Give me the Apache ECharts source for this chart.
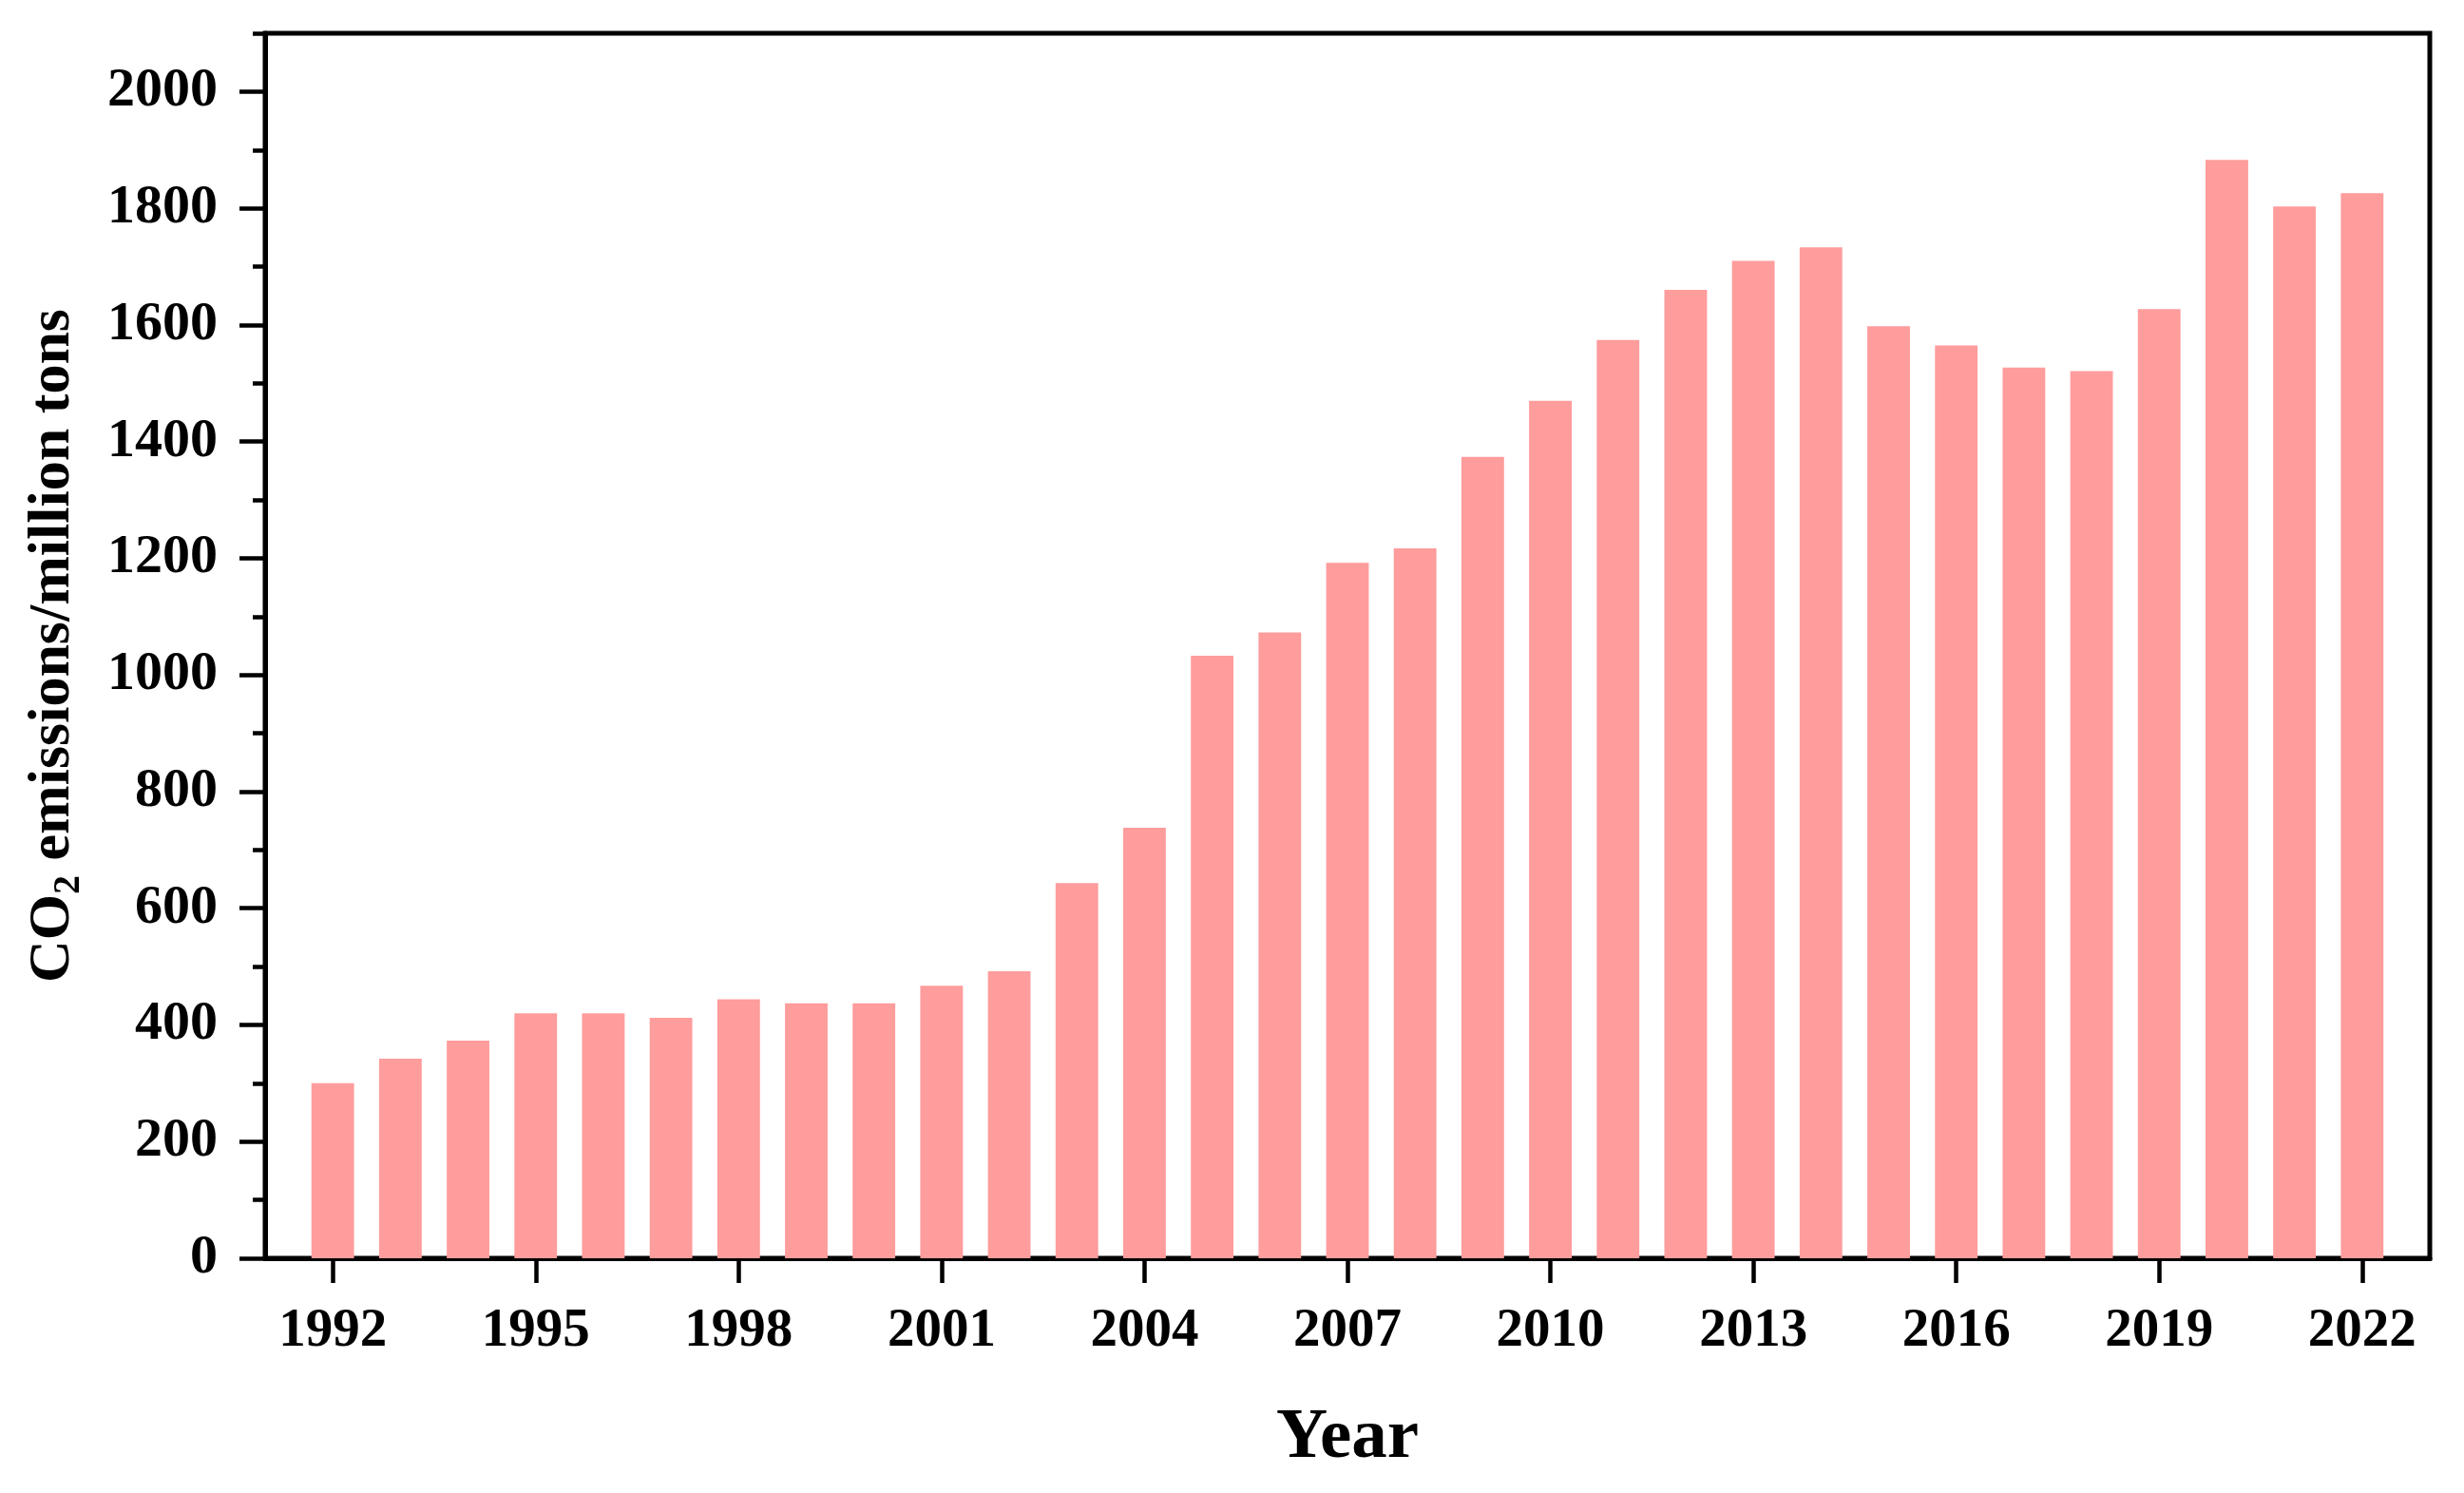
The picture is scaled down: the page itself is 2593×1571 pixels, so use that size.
<!DOCTYPE html>
<html>
<head>
<meta charset="utf-8">
<script src="https://cdn.jsdelivr.net/npm/echarts@6/dist/echarts.min.js"></script>
<style>
html,body{margin:0;padding:0;background:#fff;}
#chart{width:2593px;height:1571px;}
</style>
</head>
<body>
<div id="chart"></div>
<script>
// Data
var years = ['1992','1993','1994','1995','1996','1997','1998','1999','2000','2001','2002','2003','2004','2005','2006','2007','2008','2009','2010','2011','2012','2013','2014','2015','2016','2017','2018','2019','2020','2021','2022'];
var emissions = [300,342,373,420,420,412,444,437,437,467,492,643,738,1033,1073,1192,1217,1374,1470,1574,1660,1710,1733,1598,1565,1527,1521,1627,1883,1803,1826];
var xTickLabels = ['1992','1995','1998','2001','2004','2007','2010','2013','2016','2019','2022'];
var yMajorTicks = [0,200,400,600,800,1000,1200,1400,1600,1800,2000];
var yMinorTicks = [100,300,500,700,900,1100,1300,1500,1700,1900,2100];

// axis padded with one empty slot at each end (the reference leaves a full band of space)
var axisCats = [''].concat(years).concat(['']);
var barData = [null].concat(emissions).concat([null]);

var FONT = 'Liberation Serif';
function showYear(idx, val) { return xTickLabels.indexOf(val) >= 0; }

var chart = echarts.init(document.getElementById('chart'));
chart.setOption({
  animation: false,
  backgroundColor: '#fff',
  grid: {
    left: 279, right: 36, top: 35, bottom: 247,
    containLabel: false,
    outerBoundsMode: 'none',
    show: true, borderColor: '#000', borderWidth: 5, backgroundColor: 'transparent'
  },
  xAxis: {
    type: 'category',
    data: axisCats,
    boundaryGap: false,
    name: 'Year',
    nameLocation: 'middle',
    nameGap: 152,
    nameTextStyle: { fontFamily: FONT, fontWeight: 'bold', fontSize: 75, color: '#000' },
    axisLine: { show: true, lineStyle: { color: '#000', width: 5 } },
    axisTick: { show: true, inside: false, length: 26, interval: showYear, lineStyle: { color: '#000', width: 4.5 } },
    axisLabel: { show: true, interval: showYear, margin: 49, fontFamily: FONT, fontWeight: 'bold', fontSize: 57, color: '#000' },
    splitLine: { show: false }
  },
  yAxis: [{
    type: 'value',
    min: 0, max: 2100, interval: 100,
    position: 'left',
    name: '{a|CO}{b|2}{a| emissions/million tons}',
    nameLocation: 'middle',
    nameGap: 186,
    nameTextStyle: {
      rich: {
        a: { fontFamily: FONT, fontWeight: 'bold', fontSize: 62, color: '#000', lineHeight: 62, verticalAlign: 'top' },
        b: { fontFamily: FONT, fontWeight: 'bold', fontSize: 40, color: '#000', lineHeight: 68, verticalAlign: 'bottom' }
      }
    },
    axisLine: { show: true, lineStyle: { color: '#000', width: 5 } },
    axisTick: { show: true, inside: false, length: 27, customValues: yMajorTicks, lineStyle: { color: '#000', width: 4.5 } },
    axisLabel: { show: true, customValues: yMajorTicks, formatter: function (v) { return String(v); }, margin: 50, fontFamily: FONT, fontWeight: 'bold', fontSize: 58, color: '#000' },
    splitLine: { show: false }
  }, {
    type: 'value',
    min: 0, max: 2100, interval: 100,
    position: 'left',
    axisLine: { show: false },
    axisTick: { show: true, inside: false, length: 13, customValues: yMinorTicks, lineStyle: { color: '#000', width: 4.5 } },
    axisLabel: { show: false },
    splitLine: { show: false }
  }],
  series: [{
    type: 'bar',
    data: barData,
    xAxisIndex: 0,
    yAxisIndex: 0,
    barWidth: '63%',
    itemStyle: { color: '#FF9C9C' }
  }]
});
</script>
</body>
</html>
